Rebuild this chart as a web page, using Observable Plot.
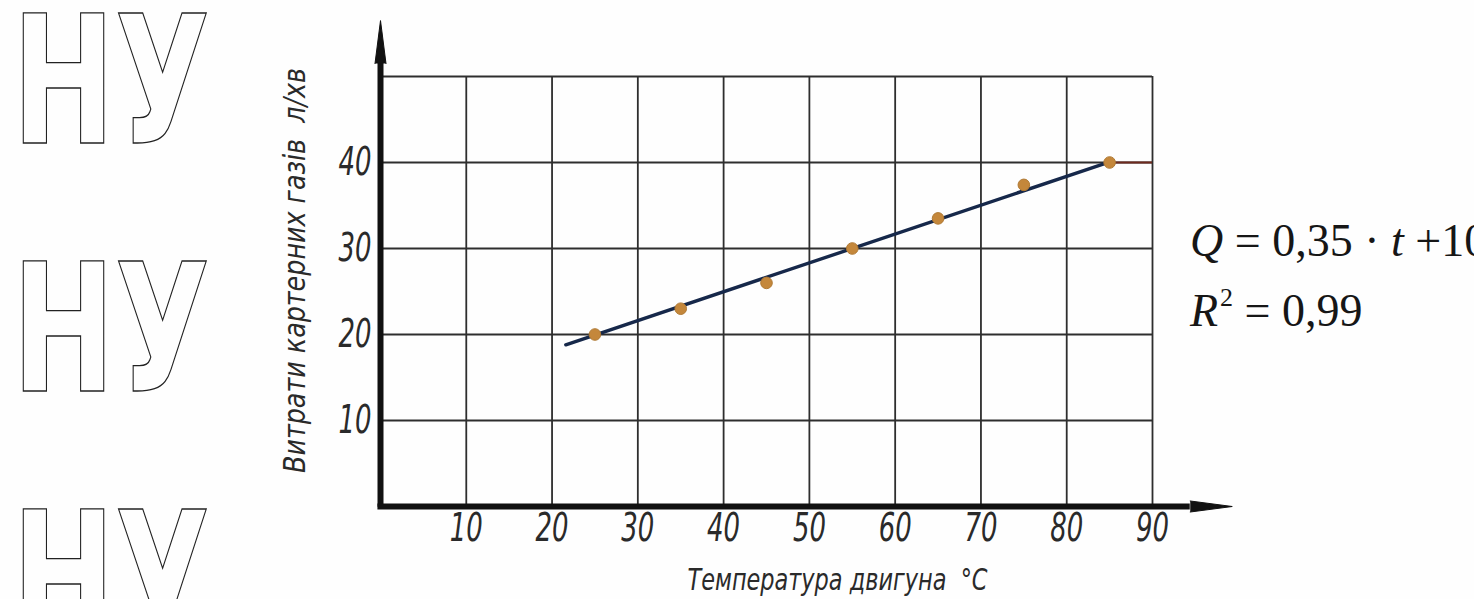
<!DOCTYPE html>
<html>
<head>
<meta charset="utf-8">
<script src="https://cdn.jsdelivr.net/npm/d3@7"></script>
<script src="https://cdn.jsdelivr.net/npm/@observablehq/plot@0.6"></script>
<style>
  html, body { margin: 0; padding: 0; background: #fefefe; }
  #wrap { position: relative; width: 1474px; height: 599px; overflow: hidden; }
  #wrap svg.plot { position: absolute; left: 0; top: 0; }
  #marks { position: absolute; left: 0; top: 0; }
  #eq { position: absolute; left: 1190px; top: 206px; font-family: "Liberation Serif", "Times New Roman", serif;
        font-size: 46px; line-height: 70px; color: #161616; white-space: nowrap; }
  #eq sup { font-size: 26px; vertical-align: 20px; line-height: 0; margin-left: 2px; }
</style>
</head>
<body>
<div id="wrap"></div>
<script>
// Data
const temperature = [25, 35, 45, 55, 65, 75, 85];          // °C
const gasFlow     = [20, 23, 26, 30, 33.5, 37.4, 40];      // л/хв
const fitT = [21.6, 84.5];                                 // trend line ends
const fitQ = [18.8, 39.9];
const xTicks = [10, 20, 30, 40, 50, 60, 70, 80, 90];
const yTicks = [10, 20, 30, 40];
const yGrid  = [10, 20, 30, 40, 50];
const xTitle = "Температура двигуна\u00a0\u00a0°C";
const yTitle = "Витрати картерних газів\u00a0\u00a0л/хв";
const watermark = ["НУ", "НУ", "НУ"];

const points = temperature.map((t, i) => ({t, q: gasFlow[i]}));
const fit = fitT.map((t, i) => ({t, q: fitQ[i]}));

const ink = "#111";
const gridColor = "#2e2e2e";
const font = "'Liberation Sans Narrow', 'DejaVu Sans Condensed', sans-serif";

const chart = Plot.plot({
  width: 1474,
  height: 599,
  marginLeft: 380,
  marginRight: 322,
  marginTop: 76,
  marginBottom: 93,
  style: { fontFamily: font, fontStyle: "italic", background: "transparent", color: ink },
  x: { domain: [0, 90] },
  y: { domain: [0, 50] },
  marks: [
    Plot.gridX(xTicks, { stroke: gridColor, strokeOpacity: 1, strokeWidth: 1.8 }),
    Plot.gridY(yGrid, { stroke: gridColor, strokeOpacity: 1, strokeWidth: 1.8 }),
    Plot.ruleY([40], { x1: 85, x2: 90, stroke: "#6e2a1e", strokeWidth: 1.8 }),
    Plot.line(fit, { x: "t", y: "q", stroke: "#16284a", strokeWidth: 3.4 }),
    Plot.dot(points, { x: "t", y: "q", r: 5.8, fill: "#c4873b", stroke: "#b07a35", strokeWidth: 1 }),
    // main axes with arrows
    Plot.ruleX([0], { y1: -0.1, y2: 51.5, stroke: ink, strokeWidth: 6 }),
    Plot.vector([{t: 0, q: 51.5}], { x: "t", y: "q", shape: "spike", anchor: "start", rotate: 0,
      length: 43, r: 5.5, fill: ink, stroke: ink, strokeWidth: 1 }),
    Plot.ruleY([0], { x1: -0.3, x2: 94.4, stroke: ink, strokeWidth: 6 }),
    Plot.vector([{t: 94.4, q: 0}], { x: "t", y: "q", shape: "spike", anchor: "start", rotate: 90,
      length: 42, r: 5.5, fill: ink, stroke: ink, strokeWidth: 1 }),
    Plot.axisX(xTicks, { tickSize: 0, tickPadding: 7, fontSize: 39, label: null, fill: "#2a2a2a" }),
    Plot.axisY(yTicks, { tickSize: 0, tickPadding: 9, fontSize: 39, label: null, fill: "#2a2a2a" }),
    Plot.text([xTitle], { frameAnchor: "bottom", textAnchor: "middle", lineAnchor: "middle",
      dx: 71, dy: 74, fontSize: 31, fill: "#2a2a2a" }),
    Plot.text([yTitle], { frameAnchor: "left", textAnchor: "middle", lineAnchor: "middle", rotate: -90,
      dx: -85, dy: -21, fontSize: 31, fill: "#2a2a2a" })
  ]
});
chart.classList.add("plot");

const wrap = document.getElementById("wrap");

// outlined watermark glyphs on the left
const wm = d3.create("svg").attr("id", "marks").attr("width", 300).attr("height", 599);
wm.selectAll("text").data(watermark).join("text")
  .attr("x", 12)
  .attr("y", (d, i) => 143 + i * 248)
  .attr("font-family", "'DejaVu Sans Condensed', sans-serif")
  .attr("font-weight", "bold")
  .attr("font-size", 178)
  .attr("textLength", 198)
  .attr("lengthAdjust", "spacingAndGlyphs")
  .attr("fill", "none")
  .attr("stroke", "#222")
  .attr("stroke-width", 1.4)
  .text(d => d);
wrap.appendChild(wm.node());
wrap.appendChild(chart);

// narrow the drafting-style lettering (tall, condensed glyphs as in the original)
const svg = d3.select(chart);
svg.selectAll('g[aria-label="x-axis tick label"] text, g[aria-label="y-axis tick label"] text').each(function () {
  const len = this.getComputedTextLength();
  this.setAttribute("textLength", (len * 0.74).toFixed(1));
  this.setAttribute("lengthAdjust", "spacingAndGlyphs");
});
svg.selectAll('g[aria-label="text"] text').each(function () {
  const isY = this.textContent.startsWith("Витрати");
  this.setAttribute("textLength", isY ? 405 : 300);
  this.setAttribute("lengthAdjust", "spacingAndGlyphs");
});

const eq = document.createElement("div");
eq.id = "eq";
eq.innerHTML = `<i>Q</i> = 0,35 · <i>t</i> +10<br><i>R</i><sup>2</sup> = 0,99`;
wrap.appendChild(eq);
</script>
</body>
</html>
